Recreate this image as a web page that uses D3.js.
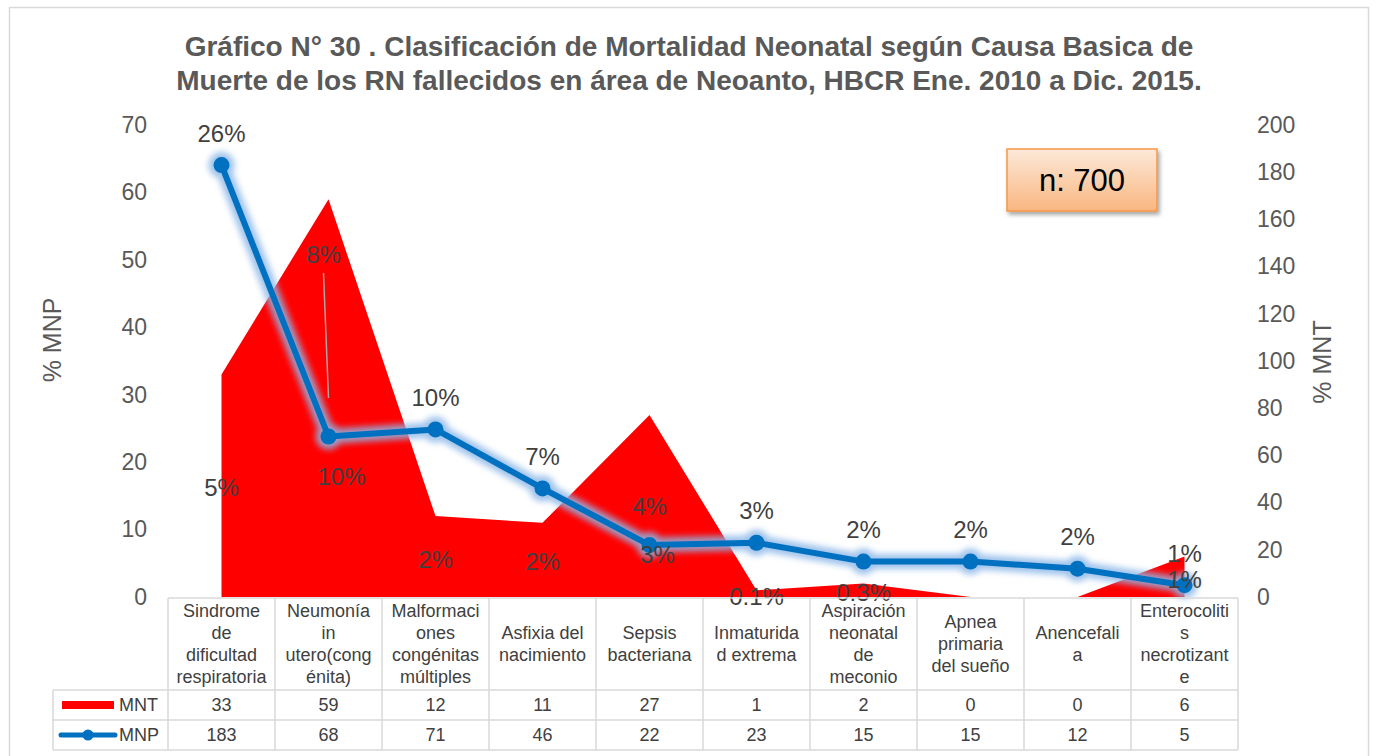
<!DOCTYPE html>
<html><head>
<meta charset="utf-8">
<script src="https://cdn.jsdelivr.net/npm/d3@7"></script>
<style>
body{ margin:0; background:#fff; }
text{ font-family:"Liberation Sans", Arial, sans-serif; }
</style>
<title>Mortalidad Neonatal</title>
</head>
<body>
<script>
var width = 1377, height = 756;

// data
var categories = [
  ["Sindrome","de","dificultad","respiratoria"],
  ["Neumonía","in","utero(cong","énita)"],
  ["Malformaci","ones","congénitas","múltiples"],
  ["Asfixia del","nacimiento"],
  ["Sepsis","bacteriana"],
  ["Inmaturida","d extrema"],
  ["Aspiración","neonatal","de","meconio"],
  ["Apnea","primaria","del sueño"],
  ["Anencefali","a"],
  ["Enterocoliti","s","necrotizant","e"]
];
var mnt = [33, 59, 12, 11, 27, 1, 2, 0, 0, 6];
var mnp = [183, 68, 71, 46, 22, 23, 15, 15, 12, 5];
var mntLabels = ["5%","8%","2%","2%","4%","0.1%","0.3%","","","1%"];
var mnpLabels = ["26%","10%","10%","7%","3%","3%","2%","2%","2%","1%"];
var leftTicks = [0,10,20,30,40,50,60,70];
var rightTicks = [0,20,40,60,80,100,120,140,160,180,200];

// label nudges (dx, dy) from default spot
var mntNudge = [[0,2],[-5,-143],[0,3],[0,2],[0,1],[0,3],[0,2],[0,0],[0,0],[0,3]];
var mnpNudge = [[0,0],[13,72],[0,0],[0,0],[8,42],[0,0],[0,0],[0,0],[0,0],[0,0]];

var plotTop = 125, plotBottom = 597, plotLeft = 168, plotRight = 1238;

var svg = d3.select("body").append("svg")
  .attr("width", width).attr("height", height);

var defs = svg.append("defs");
defs.append("filter").attr("id","glow")
  .attr("x","-20%").attr("y","-20%").attr("width","140%").attr("height","140%")
  .append("feGaussianBlur").attr("stdDeviation", 3);
var sh = defs.append("filter").attr("id","shadow")
  .attr("x","-20%").attr("y","-20%").attr("width","150%").attr("height","160%");
sh.append("feDropShadow").attr("dx",2).attr("dy",3).attr("stdDeviation",2)
  .attr("flood-color","#000").attr("flood-opacity",0.35);
var grad = defs.append("linearGradient").attr("id","orange")
  .attr("x1",0).attr("y1",0).attr("x2",0).attr("y2",1);
grad.append("stop").attr("offset","0%").attr("stop-color","#fde9d9");
grad.append("stop").attr("offset","100%").attr("stop-color","#f9b680");

// frame
svg.append("rect").attr("x",9.5).attr("y",7.5).attr("width",1359).attr("height",770)
  .attr("fill","#fff").attr("stroke","#d9d9d9").attr("stroke-width",1.5);

// title
var title = svg.append("text").attr("text-anchor","middle")
  .attr("fill","#595959").attr("font-weight","bold").attr("font-size",28);
title.append("tspan").attr("x",689).attr("y",56)
  .text("Gráfico N° 30 . Clasificación de Mortalidad Neonatal según Causa Basica de");
title.append("tspan").attr("x",689).attr("y",90)
  .text("Muerte de los RN fallecidos en área de Neoanto, HBCR Ene. 2010 a Dic. 2015.");

var x = d3.scaleBand().domain(d3.range(categories.length)).range([plotLeft, plotRight]);
var cx = function(i){ return x(i) + x.bandwidth()/2; };
var yL = d3.scaleLinear().domain([0,70]).range([plotBottom, plotTop]);
var yR = d3.scaleLinear().domain([0,200]).range([plotBottom, plotTop]);

// axes
var gl = svg.append("g").attr("transform","translate(147,0)")
  .call(d3.axisLeft(yL).tickValues(leftTicks).tickSize(0).tickPadding(0));
var gr = svg.append("g").attr("transform","translate(1257,0)")
  .call(d3.axisRight(yR).tickValues(rightTicks).tickSize(0).tickPadding(0));
[gl, gr].forEach(function(g){
  g.select(".domain").remove();
  g.attr("font-family", null).attr("font-size", 23);
  g.selectAll("text").attr("fill","#595959");
});

svg.append("text").attr("transform","translate(61,340) rotate(-90)")
  .attr("text-anchor","middle").attr("font-size",25).attr("fill","#595959").text("% MNP");
svg.append("text").attr("transform","translate(1331,362) rotate(-90)")
  .attr("text-anchor","middle").attr("font-size",25).attr("fill","#595959").text("% MNT");

// MNT area
var area = d3.area()
  .x(function(d,i){ return cx(i); })
  .y0(yL(0))
  .y1(function(d){ return yL(d); });
svg.append("path").datum(mnt).attr("d", area).attr("fill","#ff0000");

// MNP line with glow
var line = d3.line()
  .x(function(d,i){ return cx(i); })
  .y(function(d){ return yR(d); });
var glow = svg.append("g").attr("filter","url(#glow)").attr("opacity",0.85);
glow.append("path").datum(mnp).attr("d", line).attr("fill","none")
  .attr("stroke","#8db8e8").attr("stroke-width",15).attr("stroke-linejoin","round");
glow.selectAll("circle").data(mnp).enter().append("circle")
  .attr("cx", function(d,i){ return cx(i); }).attr("cy", function(d){ return yR(d); })
  .attr("r", 13).attr("fill","#8db8e8");
svg.append("path").datum(mnp).attr("d", line).attr("fill","none")
  .attr("stroke","#0070c0").attr("stroke-width",6).attr("stroke-linejoin","round");
svg.selectAll(".pt").data(mnp).enter().append("circle").attr("class","pt")
  .attr("cx", function(d,i){ return cx(i); }).attr("cy", function(d){ return yR(d); })
  .attr("r", 8).attr("fill","#0070c0");

// leader line for moved label
svg.append("line")
  .attr("x1", cx(1) + mntNudge[1][0]).attr("y1", yL(mnt[1]/2) + mntNudge[1][1] + 18)
  .attr("x2", cx(1)).attr("y2", yL(mnt[1]/2))
  .attr("stroke","#a6a6a6").attr("stroke-width",1.5);

// data labels
svg.selectAll(".lt").data(mnt).enter().append("text").attr("class","lt")
  .attr("x", function(d,i){ return cx(i) + mntNudge[i][0]; })
  .attr("y", function(d,i){ return yL(d/2) + mntNudge[i][1]; })
  .attr("dy","0.35em").attr("text-anchor","middle")
  .attr("font-size",24).attr("fill","#404040")
  .text(function(d,i){ return mntLabels[i]; });
svg.selectAll(".lp").data(mnp).enter().append("text").attr("class","lp")
  .attr("x", function(d,i){ return cx(i) + mnpNudge[i][0]; })
  .attr("y", function(d,i){ return yR(d) - 32 + mnpNudge[i][1]; })
  .attr("dy","0.35em").attr("text-anchor","middle")
  .attr("font-size",24).attr("fill","#404040")
  .text(function(d,i){ return mnpLabels[i]; });

// n box
svg.append("rect").attr("x",1007).attr("y",149).attr("width",150).attr("height",62)
  .attr("fill","url(#orange)").attr("stroke","#f79646").attr("stroke-width",1.5)
  .attr("filter","url(#shadow)");
svg.append("text").attr("x",1082).attr("y",191).attr("text-anchor","middle")
  .attr("font-size",31).attr("fill","#000").text("n: 700");

// data table
var tableLeft = 53, headTop = 598, row1 = 690, row2 = 720, row3 = 750;
var tg = svg.append("g").attr("stroke","#d9d9d9").attr("stroke-width",1.5);
tg.append("line").attr("x1",plotLeft).attr("x2",plotRight).attr("y1",headTop).attr("y2",headTop);
[row1,row2,row3].forEach(function(yy){
  tg.append("line").attr("x1",tableLeft).attr("x2",plotRight).attr("y1",yy).attr("y2",yy);
});
tg.append("line").attr("x1",tableLeft).attr("x2",tableLeft).attr("y1",row1).attr("y2",row3);
d3.range(categories.length + 1).forEach(function(i){
  var xx = i < categories.length ? x(i) : plotRight;
  tg.append("line").attr("x1",xx).attr("x2",xx).attr("y1",headTop).attr("y2",row3);
});

categories.forEach(function(lines, i){
  var t = svg.append("text").attr("text-anchor","middle").attr("font-size",18).attr("fill","#404040");
  var mid = (headTop + row1)/2;
  lines.forEach(function(s, k){
    t.append("tspan").attr("x", cx(i))
      .attr("y", mid + (k - (lines.length-1)/2)*22).attr("dy","0.35em").text(s);
  });
});
svg.selectAll(".vt").data(mnt).enter().append("text").attr("class","vt")
  .attr("x", function(d,i){ return cx(i); }).attr("y",(row1+row2)/2).attr("dy","0.35em")
  .attr("text-anchor","middle").attr("font-size",18).attr("fill","#404040")
  .text(function(d){ return d; });
svg.selectAll(".vp").data(mnp).enter().append("text").attr("class","vp")
  .attr("x", function(d,i){ return cx(i); }).attr("y",(row2+row3)/2).attr("dy","0.35em")
  .attr("text-anchor","middle").attr("font-size",18).attr("fill","#404040")
  .text(function(d){ return d; });

// legend keys
svg.append("rect").attr("x",62).attr("y",701).attr("width",52).attr("height",8).attr("fill","#ff0000");
svg.append("text").attr("x",119).attr("y",705).attr("dy","0.35em").attr("font-size",18)
  .attr("fill","#404040").text("MNT");
svg.append("line").attr("x1",61).attr("x2",115).attr("y1",735).attr("y2",735)
  .attr("stroke","#0070c0").attr("stroke-width",5).attr("stroke-linecap","round");
svg.append("circle").attr("cx",88).attr("cy",735).attr("r",5.5).attr("fill","#0070c0");
svg.append("text").attr("x",119).attr("y",735).attr("dy","0.35em").attr("font-size",18)
  .attr("fill","#404040").text("MNP");
</script>
</body></html>
